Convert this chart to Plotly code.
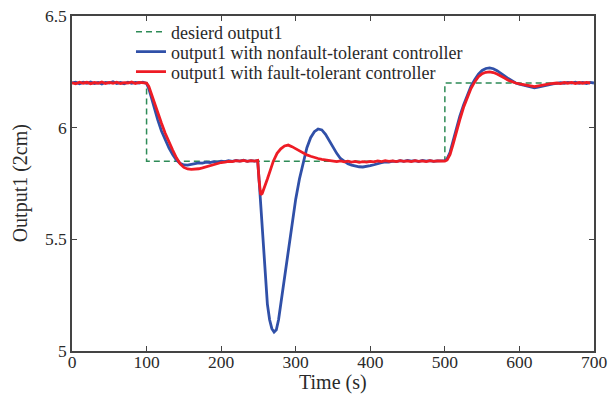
import plotly.graph_objects as go

# ---------------- data ----------------
desired_t = [0, 100, 100, 500, 500, 700]
desired_y = [6.2, 6.2, 5.85, 5.85, 6.2, 6.2]

blue_t = [0, 5, 10, 15, 20, 25, 30, 35, 40, 45, 50, 55, 60, 65, 70, 75, 80, 85, 90, 95,
          100, 103, 106, 110, 115, 120, 125, 130, 135, 140, 145, 150, 155, 160, 165, 170,
          175, 180, 185, 190, 195, 200, 205, 210, 215, 220, 225, 230, 235, 240, 245, 249,
          251, 253, 256, 259, 262, 265, 268, 271, 274, 277, 280, 284, 288, 292, 296, 300,
          305, 310, 315, 320, 325, 330, 335, 340, 345, 350, 355, 360, 365, 370, 375, 380,
          385, 390, 395, 400, 405, 410, 415, 420, 425, 430, 435, 440, 445, 450, 455, 460,
          465, 470, 475, 480, 485, 490, 495, 500, 503, 507, 511, 515, 520, 525, 530, 535,
          540, 545, 550, 555, 560, 565, 570, 575, 580, 585, 590, 595, 600, 605, 610, 615,
          620, 625, 630, 635, 640, 645, 650, 655, 660, 665, 670, 675, 680, 685, 690, 695, 700]
blue_y = [6.200, 6.204, 6.197, 6.203, 6.199, 6.205, 6.198, 6.202, 6.196, 6.203, 6.200, 6.206,
          6.198, 6.202, 6.197, 6.204, 6.199, 6.203, 6.200, 6.204,
          6.198, 6.175, 6.140, 6.090, 6.035, 5.985, 5.945, 5.910, 5.880, 5.855, 5.840, 5.833,
          5.832, 5.836, 5.838, 5.842, 5.841, 5.846, 5.844, 5.848, 5.846, 5.850, 5.848, 5.852,
          5.849, 5.853, 5.850, 5.854, 5.849, 5.852, 5.850, 5.852,
          5.760, 5.660, 5.470, 5.320, 5.210, 5.140, 5.100, 5.085, 5.095, 5.140, 5.210, 5.300,
          5.400, 5.490, 5.590, 5.680, 5.770, 5.840, 5.910, 5.955, 5.982, 5.994, 5.990, 5.970,
          5.940, 5.910, 5.885, 5.862, 5.848, 5.838, 5.832, 5.828, 5.825, 5.824, 5.826, 5.830,
          5.834, 5.840, 5.843, 5.847, 5.846, 5.850, 5.848, 5.852, 5.849, 5.853, 5.850, 5.852,
          5.848, 5.853, 5.850, 5.852, 5.849, 5.851, 5.850, 5.852, 5.860, 5.890, 5.940, 5.995,
          6.050, 6.100, 6.145, 6.185, 6.215, 6.240, 6.256, 6.265, 6.268, 6.264, 6.255, 6.245,
          6.232, 6.220, 6.210, 6.200, 6.195, 6.190, 6.185, 6.182, 6.178, 6.182, 6.186, 6.190,
          6.193, 6.196, 6.198, 6.201, 6.199, 6.203, 6.200, 6.204, 6.199, 6.202, 6.198, 6.203, 6.200]

red_t = [0, 5, 10, 15, 20, 25, 30, 35, 40, 45, 50, 55, 60, 65, 70, 75, 80, 85, 90, 95,
         100, 103, 106, 110, 115, 120, 125, 130, 135, 140, 145, 150, 155, 160, 165, 170,
         175, 180, 185, 190, 195, 200, 205, 210, 215, 220, 225, 230, 235, 240, 245, 249,
         251, 253, 255, 258, 262, 266, 270, 275, 280, 285, 290, 295, 300, 305, 310, 315,
         320, 325, 330, 335, 340, 345, 350, 355, 360, 365, 370, 375, 380, 385, 390, 395,
         400, 405, 410, 415, 420, 425, 430, 435, 440, 445, 450, 455, 460, 465, 470, 475,
         480, 485, 490, 495, 500, 503, 507, 511, 515, 520, 525, 530, 535, 540, 545, 550,
         555, 560, 565, 570, 575, 580, 585, 590, 595, 600, 605, 610, 615, 620, 625, 630,
         635, 640, 645, 650, 655, 660, 665, 670, 675, 680, 685, 690, 695, 700]
red_y = [6.201, 6.197, 6.204, 6.199, 6.203, 6.197, 6.202, 6.199, 6.205, 6.198, 6.203, 6.199,
         6.204, 6.198, 6.202, 6.200, 6.205, 6.198, 6.203, 6.201,
         6.200, 6.185, 6.155, 6.110, 6.065, 6.020, 5.975, 5.935, 5.900, 5.865, 5.838, 5.822,
         5.815, 5.813, 5.814, 5.816, 5.820, 5.825, 5.830, 5.836, 5.840, 5.844, 5.846, 5.849,
         5.848, 5.852, 5.850, 5.853, 5.849, 5.852, 5.850, 5.853,
         5.760, 5.700, 5.705, 5.730, 5.770, 5.810, 5.850, 5.885, 5.905, 5.918, 5.922, 5.915,
         5.905, 5.895, 5.886, 5.878, 5.872, 5.866, 5.862, 5.858, 5.855, 5.852, 5.850, 5.848,
         5.851, 5.847, 5.850, 5.846, 5.849, 5.845, 5.848, 5.846,
         5.849, 5.847, 5.851, 5.848, 5.852, 5.849, 5.851, 5.848, 5.852, 5.849, 5.851, 5.848,
         5.852, 5.849, 5.851, 5.848, 5.852, 5.849, 5.851, 5.849, 5.850, 5.855, 5.880, 5.925,
         5.980, 6.035, 6.090, 6.135, 6.175, 6.205, 6.228, 6.242, 6.248, 6.250, 6.247, 6.240,
         6.232, 6.222, 6.212, 6.205, 6.200, 6.196, 6.192, 6.190, 6.187, 6.184, 6.188, 6.190,
         6.193, 6.196, 6.198, 6.200, 6.197, 6.202, 6.199, 6.203, 6.198, 6.202, 6.199, 6.203, 6.200]

x_ticks = [0, 100, 200, 300, 400, 500, 600, 700]
y_ticks = [5, 5.5, 6, 6.5]
y_tick_labels = ["5", "5.5", "6", "6.5"]

names = ["desierd output1",
         "output1 with nonfault-tolerant controller",
         "output1 with fault-tolerant controller"]
x_title = "Time (s)"
y_title = "Output1 (2cm)"

# ---------------- figure ----------------
FONT = "Liberation Serif"
TXT = "#2a2a2a"
fig = go.Figure()
fig.add_trace(go.Scatter(x=desired_t, y=desired_y, mode="lines", name=names[0],
                         legend="legend",
                         line=dict(color="#2e8b57", width=1.5, dash="6px,4px")))
fig.add_trace(go.Scatter(x=blue_t, y=blue_y, mode="lines", name=names[1],
                         legend="legend2",
                         line=dict(color="#3050a8", width=2.8)))
fig.add_trace(go.Scatter(x=red_t, y=red_y, mode="lines", name=names[2],
                         legend="legend3",
                         line=dict(color="#ee1c25", width=2.8)))

axis_common = dict(showline=True, linecolor="#444444", linewidth=1.5, mirror="ticks",
                   ticks="inside", ticklen=5, tickcolor="#444444", tickwidth=1.2,
                   showgrid=False, zeroline=False, automargin=False,
                   tickfont=dict(family=FONT, size=17.5, color=TXT))

fig.update_xaxes(range=[0, 700], tickvals=x_ticks, ticklabelstandoff=-6, **axis_common)
fig.update_yaxes(range=[5, 6.5], tickvals=y_ticks, ticktext=y_tick_labels, **axis_common)

leg_common = dict(x=0.113, xanchor="left", yanchor="middle",
                  bgcolor="rgba(0,0,0,0)", borderwidth=0,
                  font=dict(family=FONT, size=18, color=TXT))

fig.update_layout(
    width=608, height=394,
    margin=dict(l=72, r=14, t=16, b=43),
    paper_bgcolor="white", plot_bgcolor="white",
    showlegend=True,
    legend=dict(y=0.952, **leg_common),
    legend2=dict(y=0.893, **leg_common),
    legend3=dict(y=0.833, **leg_common),
    annotations=[
        dict(text=x_title, xref="paper", yref="paper", x=0.5, y=-0.094,
             xanchor="center", yanchor="middle", showarrow=False,
             font=dict(family=FONT, size=20, color=TXT)),
        dict(text=y_title, xref="paper", yref="paper", x=-0.098, y=0.5,
             xanchor="center", yanchor="middle", showarrow=False, textangle=-90,
             font=dict(family=FONT, size=20, color=TXT)),
    ],
)

fig.write_html("out.html")
